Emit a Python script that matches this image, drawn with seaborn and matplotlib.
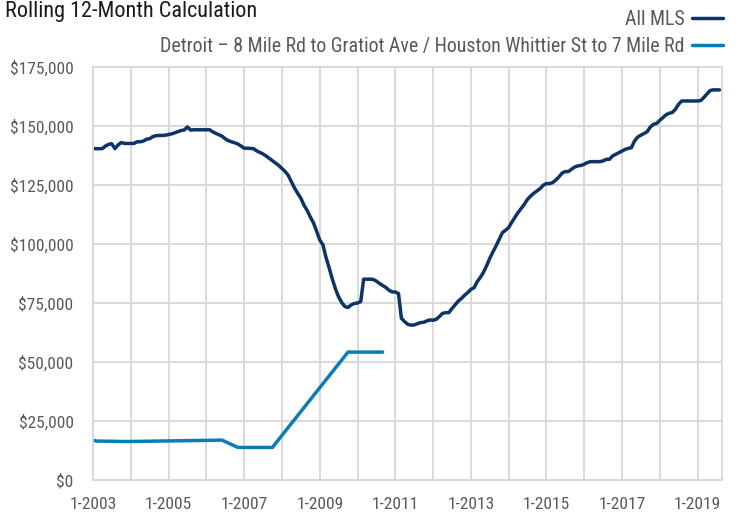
import matplotlib
matplotlib.use("Agg")
import matplotlib.pyplot as plt
import matplotlib.dates as mdates
from matplotlib import font_manager
from matplotlib.ticker import FuncFormatter, MultipleLocator
from matplotlib.lines import Line2D
import pandas as pd
import seaborn as sns

# --- datos (miles de dólares, mensual desde 1-2003) ---
mls_2003 = [140.4, 140.4, 140.4, 140.4, 141.5, 142.2, 142.5, 140.4, 142.0, 143.0, 142.6, 142.6]
mls_2004 = [142.6, 142.6, 143.3, 143.3, 143.6, 144.4, 144.6, 145.5, 145.9, 146.0, 146.0, 146.1]
mls_2005 = [146.4, 146.7, 147.1, 147.6, 148.1, 148.3, 149.6, 148.3, 148.4, 148.4, 148.4, 148.4]
mls_2006 = [148.4, 148.4, 147.6, 146.9, 146.3, 145.7, 144.6, 143.8, 143.3, 142.9, 142.4, 141.5]
mls_2007 = [140.6, 140.6, 140.5, 140.4, 139.5, 138.8, 138.2, 137.3, 136.3, 135.3, 134.3, 133.3]
mls_2008 = [132.0, 130.7, 129.2, 126.5, 123.8, 121.5, 119.5, 116.5, 114.2, 111.5, 109.0, 105.5]
mls_2009 = [101.7, 99.6, 94.5, 90.0, 85.3, 81.1, 77.7, 75.2, 73.5, 73.1, 74.2, 74.8]
mls_2010 = [75.0, 75.6, 85.1, 85.1, 85.1, 85.0, 84.3, 83.3, 82.4, 81.6, 80.4, 79.7]
mls_2011 = [79.7, 79.0, 68.5, 67.1, 66.0, 65.6, 65.7, 66.2, 66.7, 66.8, 67.4, 67.8]
mls_2012 = [67.7, 68.1, 69.2, 70.6, 70.9, 70.9, 72.6, 74.2, 75.8, 76.9, 78.3, 79.4]
mls_2013 = [80.8, 81.5, 83.9, 85.8, 87.9, 90.7, 93.8, 96.6, 99.2, 102.0, 104.8, 105.8]
mls_2014 = [107.0, 109.3, 111.2, 113.3, 115.0, 116.8, 118.9, 120.3, 121.5, 122.5, 123.5, 124.9]
mls_2015 = [125.6, 125.6, 126.0, 127.1, 128.4, 130.0, 130.7, 130.7, 131.7, 132.6, 133.1, 133.3]
mls_2016 = [133.8, 134.5, 134.9, 134.9, 134.9, 134.9, 135.2, 135.9, 135.9, 137.3, 138.0, 138.7]
mls_2017 = [139.4, 140.1, 140.5, 140.8, 143.6, 145.3, 146.1, 146.8, 147.6, 149.6, 150.7, 151.1]
mls_2018 = [152.4, 153.6, 154.7, 155.4, 155.7, 157.1, 159.2, 160.6, 160.6, 160.6, 160.6, 160.6]
mls_2019 = [160.6, 160.8, 162.0, 163.5, 165.0, 165.3, 165.3, 165.3]

detroit_fechas = ["2003-01", "2003-02", "2003-12", "2006-06", "2006-11", "2007-10", "2009-10", "2010-09"]
detroit_valores = [16.9, 16.5, 16.3, 16.9, 13.8, 13.8, 54.2, 54.2]

serie_mls = "All MLS"
serie_det = "Detroit – 8 Mile Rd to Gratiot Ave / Houston Whittier St to 7 Mile Rd"
colores = {serie_mls: "#0c3466", serie_det: "#0b7db5"}

mls_valores = (mls_2003 + mls_2004 + mls_2005 + mls_2006 + mls_2007 + mls_2008 + mls_2009
               + mls_2010 + mls_2011 + mls_2012 + mls_2013 + mls_2014 + mls_2015 + mls_2016
               + mls_2017 + mls_2018 + mls_2019)
mls_fechas = pd.date_range("2003-01-01", periods=len(mls_valores), freq="MS")

df = pd.concat([
    pd.DataFrame({"fecha": mls_fechas, "valor": [v * 1000 for v in mls_valores], "serie": serie_mls}),
    pd.DataFrame({"fecha": pd.to_datetime(detroit_fechas), "valor": [v * 1000 for v in detroit_valores],
                  "serie": serie_det}),
])

# --- fuente estrecha si existe ---
disponibles = {f.name for f in font_manager.fontManager.ttflist}
fuente = next((f for f in ["Liberation Sans Narrow", "Roboto Condensed", "Liberation Sans"] if f in disponibles),
              "DejaVu Sans")

sns.set_style("white")
plt.rcParams["font.family"] = [fuente, "DejaVu Sans"]

gris = "#d9d9d9"
texto = "#595959"

fig = plt.figure(figsize=(7.38, 5.15), dpi=100)
ax = fig.add_axes([93 / 738, 1 - 480 / 515, (722 - 93) / 738, (480 - 67) / 515])

sns.lineplot(data=df, x="fecha", y="valor", hue="serie", palette=colores, linewidth=2.5,
             estimator=None, legend=False, ax=ax)

ax.set_xlim(pd.Timestamp("2003-01-01"), pd.Timestamp("2019-08-25"))
ax.set_ylim(0, 175000)
ax.yaxis.set_major_locator(MultipleLocator(25000))
ax.yaxis.set_major_formatter(FuncFormatter(lambda v, p: f"${v:,.0f}"))
ax.xaxis.set_major_locator(mdates.YearLocator(1, month=1, day=1))
ax.xaxis.set_major_formatter(FuncFormatter(
    lambda v, p: f"1-{mdates.num2date(v).year}" if (mdates.num2date(v).year - 2003) % 2 == 0 else ""))

ax.set_xlabel("")
ax.set_ylabel("")
ax.grid(True, color=gris, linewidth=1.4)
for s in ax.spines.values():
    s.set_visible(True)
    s.set_color(gris)
    s.set_linewidth(1.4)
ax.tick_params(axis="both", length=6, width=1.4, color=gris, labelcolor=texto, labelsize=12.5)
ax.tick_params(axis="y", pad=8)
ax.tick_params(axis="x", pad=6)

# --- leyenda arriba a la derecha ---
handles = [Line2D([], [], color=colores[serie_mls], linewidth=2.5),
           Line2D([], [], color=colores[serie_det], linewidth=2.5)]
leg = fig.legend(handles, [serie_mls, serie_det], loc="upper right",
                 bbox_to_anchor=(723 / 738, 1 - 10 / 515), markerfirst=False, frameon=False,
                 fontsize=14.3, handlelength=1.55, handletextpad=0.4, labelspacing=0.42,
                 borderpad=0, borderaxespad=0)
for t in leg.get_texts():
    t.set_color(texto)

fig.text(5 / 738, 1 - 12 / 515, "Rolling 12-Month Calculation", ha="left", va="center",
         fontsize=16, color="#1a1a1a")

fig.savefig("out.png", dpi=100)
